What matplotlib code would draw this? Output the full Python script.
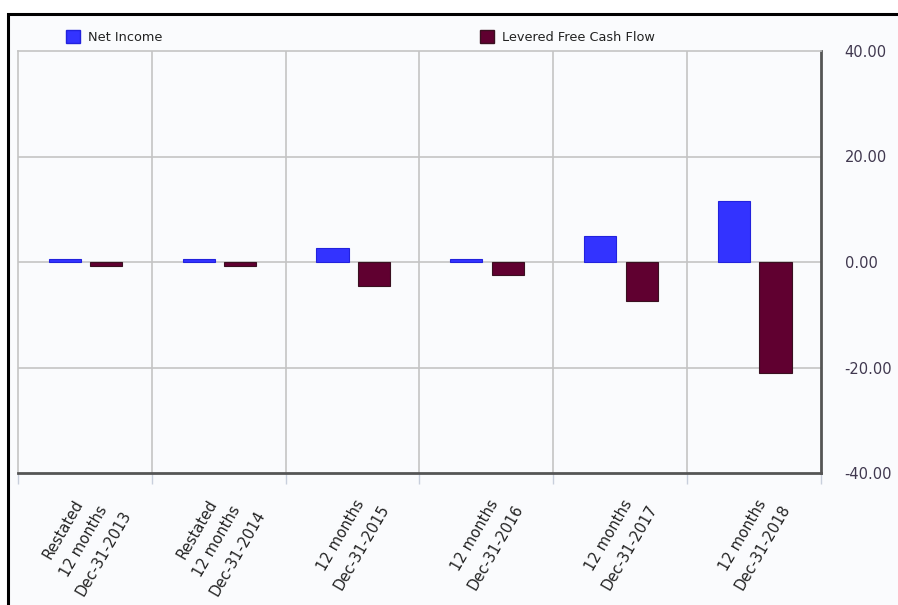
import numpy as np
import matplotlib
matplotlib.use("Agg")
import matplotlib.pyplot as plt
from matplotlib.patches import Rectangle, Patch
from matplotlib.ticker import FormatStrFormatter

plt.rcParams["axes.unicode_minus"] = False

# Data
categories = [
    "Restated\n12 months\nDec-31-2013",
    "Restated\n12 months\nDec-31-2014",
    "12 months\nDec-31-2015",
    "12 months\nDec-31-2016",
    "12 months\nDec-31-2017",
    "12 months\nDec-31-2018",
]
net_income = [0.55, 0.55, 2.6, 0.5, 5.0, 11.6]
levered_fcf = [-0.8, -0.75, -4.5, -2.5, -7.4, -21.0]
y_ticks = [-40, -20, 0, 20, 40]

blue = "#3333ff"
maroon = "#600030"
panel = "#fafbfd"
grid_c = "#c4c4c4"
text_c = "#40384f"

W, H = 898, 605
fig = plt.figure(figsize=(W / 100, H / 100), dpi=100)
fig.patch.set_facecolor("white")

# outer panel with black border (runs off right/bottom edges)
fig.patches.append(Rectangle((8 / W, -0.05), 1.0, 1 - 14 / H + 0.05,
                             transform=fig.transFigure, facecolor=panel,
                             edgecolor="black", linewidth=2.2, zorder=-10))

ax = fig.add_axes([18 / W, (H - 473) / H, 803 / W, 422 / H])
ax.set_facecolor(panel)

x = np.arange(len(categories))
bw = 0.24
ax.bar(x - 0.15, net_income, bw, color=blue, edgecolor="#2222dd", linewidth=0.8, zorder=3)
ax.bar(x + 0.16, levered_fcf, bw, color=maroon, edgecolor="#3a1020", linewidth=0.8, zorder=3)

ax.set_xlim(-0.5, len(categories) - 0.5)
ax.set_ylim(-40, 40)

# grid
for b in np.arange(0.5, len(categories) - 0.5, 1):
    ax.axvline(b, color=grid_c, lw=1.2, zorder=1)
for t in [-20, 0, 20]:
    ax.axhline(t, color=grid_c, lw=1.2, zorder=1)

for s in ["top", "left"]:
    ax.spines[s].set_color(grid_c)
    ax.spines[s].set_linewidth(1.2)
for s in ["right", "bottom"]:
    ax.spines[s].set_color("#555555")
    ax.spines[s].set_linewidth(2)

ax.yaxis.tick_right()
ax.set_yticks(y_ticks)
ax.yaxis.set_major_formatter(FormatStrFormatter("%.2f"))
ax.tick_params(axis="y", length=0, pad=17, labelsize=10.5, labelcolor=text_c)

ax.set_xticks(np.arange(-0.5, len(categories), 1))
ax.set_xticklabels([])
ax.tick_params(axis="x", length=8, color="#c8cfdc", width=1, direction="out")

for i, lab in enumerate(categories):
    ax.text(i - 0.01, -0.162, lab, transform=ax.get_xaxis_transform(),
            rotation=60, ha="center", va="center", multialignment="center",
            fontsize=10.6, color="#222222", linespacing=1.7)

# legends
leg_kw = dict(frameon=False, fontsize=9.3, handlelength=1.1, handleheight=1.1,
              handletextpad=0.6, borderpad=0, borderaxespad=0,
              loc="center left", bbox_transform=fig.transFigure)
l1 = fig.legend(handles=[Patch(facecolor=blue, edgecolor="#2222dd")], labels=["Net Income"],
                bbox_to_anchor=(66 / W, 1 - 37 / H), **leg_kw)
l2 = fig.legend(handles=[Patch(facecolor=maroon, edgecolor="#3a1020")], labels=["Levered Free Cash Flow"],
                bbox_to_anchor=(480 / W, 1 - 37 / H), **leg_kw)
for l in (l1, l2):
    for t in l.get_texts():
        t.set_color("#222222")

fig.savefig("out.png", dpi=100)
